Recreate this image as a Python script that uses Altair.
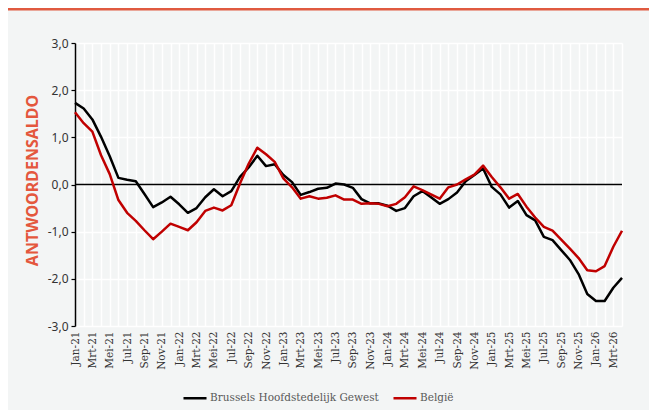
import altair as alt
import pandas as pd

month_names = ["Jan", "Feb", "Mrt", "Apr", "Mei", "Jun", "Jul", "Aug", "Sep", "Okt", "Nov", "Dec"]
years = ["21", "22", "23", "24", "25", "26"]
months = [f"{m}-{y}" for y in years for m in month_names][:64]  # Jan-21 .. Apr-26

brussels = [1.73, 1.61, 1.38, 1.01, 0.60, 0.14, 0.10, 0.07, -0.20, -0.48,
            -0.38, -0.26, -0.42, -0.60, -0.50, -0.27, -0.10, -0.25, -0.14, 0.16,
            0.36, 0.61, 0.39, 0.43, 0.20, 0.05, -0.22, -0.16, -0.09, -0.07,
            0.02, 0.00, -0.07, -0.31, -0.40, -0.40, -0.45, -0.56, -0.50, -0.25,
            -0.14, -0.27, -0.41, -0.31, -0.17, 0.07, 0.20, 0.34, -0.05, -0.21,
            -0.49, -0.35, -0.65, -0.76, -1.11, -1.18, -1.39, -1.60, -1.90, -2.32,
            -2.47, -2.47, -2.19, -1.98]

belgie = [1.53, 1.30, 1.12, 0.62, 0.22, -0.33, -0.60, -0.77, -0.97, -1.16,
          -1.00, -0.83, -0.90, -0.97, -0.80, -0.56, -0.49, -0.55, -0.44, 0.02,
          0.44, 0.78, 0.64, 0.48, 0.13, -0.06, -0.30, -0.25, -0.30, -0.28,
          -0.23, -0.32, -0.32, -0.41, -0.40, -0.41, -0.46, -0.41, -0.27, -0.04,
          -0.12, -0.21, -0.30, -0.06, 0.00, 0.11, 0.21, 0.40, 0.16, -0.06,
          -0.30, -0.20, -0.47, -0.70, -0.90, -0.98, -1.17, -1.36, -1.56, -1.82,
          -1.84, -1.73, -1.32, -0.98]

series_names = ["Brussels Hoofdstedelijk Gewest", "België"]
series_colors = ["#000000", "#c00000"]
y_ticks = [-3, -2, -1, 0, 1, 2, 3]

rows = []
for i, m in enumerate(months):
    rows.append({"i": i, "month": m, "series": series_names[0], "value": brussels[i]})
    rows.append({"i": i, "month": m, "series": series_names[1], "value": belgie[i]})
df = pd.DataFrame(rows)

label_array = "[" + ",".join(f"'{m}'" for m in months) + "]"
x_label_expr = f"datum.value % 2 == 0 ? {label_array}[datum.value] : ''"
y_label_expr = "replace((datum.value < 0 ? '-' : '') + format(abs(datum.value), '.1f'), '.', ',')"

x_enc = alt.X(
    "i:Q",
    scale=alt.Scale(domain=[0, len(months) - 1], nice=False, zero=False),
    axis=alt.Axis(
        values=list(range(len(months))),
        labelExpr=x_label_expr,
        labelAngle=270,
        labelAlign="right",
        labelBaseline="middle",
        labelPadding=5,
        labelFont="DejaVu Serif",
        labelFontSize=10.5,
        labelColor="#333333",
        labelOverlap=False,
        grid=True,
        gridColor="#ffffff",
        gridWidth=1.5,
        domain=False,
        ticks=False,
        title=None,
    ),
)

y_enc = alt.Y(
    "value:Q",
    scale=alt.Scale(domain=[-3, 3], nice=False),
    axis=alt.Axis(
        values=y_ticks,
        labelExpr=y_label_expr,
        labelFont="Noto Sans",
        labelFontSize=12,
        labelColor="#333333",
        labelPadding=3,
        grid=True,
        gridColor="#ffffff",
        gridWidth=1.5,
        domain=True,
        domainColor="#000000",
        domainWidth=1.5,
        ticks=True,
        tickColor="#000000",
        tickSize=4,
        tickWidth=1.2,
        title="ANTWOORDENSALDO",
        titleFont="Noto Sans",
        titleFontSize=16,
        titleFontWeight="bold",
        titleColor="#e4573d",
        titleAngle=270,
        titleAlign="center",
        titleBaseline="middle",
        titleX=-43,
        titleY=137,
    ),
)

lines = alt.Chart(df).mark_line(strokeWidth=2.5, strokeJoin="round").encode(
    x=x_enc,
    y=y_enc,
    color=alt.Color(
        "series:N",
        sort=series_names,
        scale=alt.Scale(domain=series_names, range=series_colors),
        legend=alt.Legend(
            orient="none",
            legendX=107,
            legendY=342,
            direction="horizontal",
            title=None,
            symbolType="stroke",
            symbolSize=530,
            symbolStrokeWidth=2.5,
            labelFont="DejaVu Serif",
            labelFontSize=10.5,
            labelColor="#595959",
            labelLimit=400,
            labelOffset=2,
            columnPadding=9,
            padding=0,
        ),
    ),
    order=alt.Order("i:Q"),
)

zero_df = pd.DataFrame({"value": [0]})
zero_rule = alt.Chart(zero_df).mark_rule(color="#000000", strokeWidth=1.3).encode(y="value:Q")

top_df = pd.DataFrame({"k": [0]})
top_rule = alt.Chart(top_df).mark_rule(color="#e05a40", strokeWidth=3).encode(
    x=alt.value(-67), x2=alt.value(574), y=alt.value(-34)
)

chart = alt.layer(zero_rule, lines, top_rule).properties(
    width=547,
    height=283,
    background="#f3f5f5",
    padding={"left": 67, "top": 35, "right": 27, "bottom": 84},
    autosize=alt.AutoSizeParams(type="none"),
).configure_view(stroke=None, fill="#f3f5f5")

chart.save("out.html", embed_options={"renderer": "svg", "actions": False})
